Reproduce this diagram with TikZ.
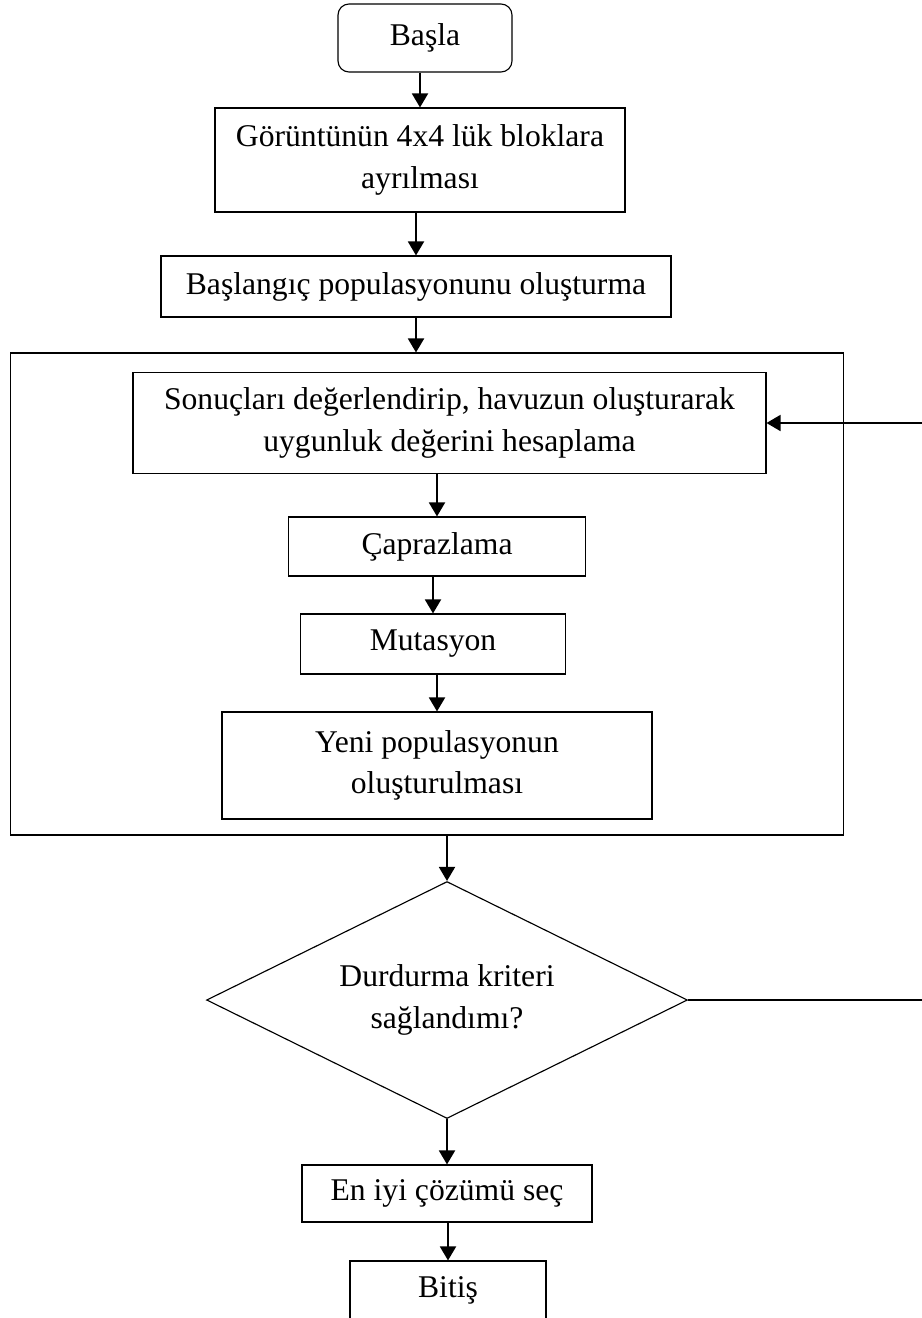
\documentclass[tikz,border=0pt]{standalone}
\usepackage{fontspec}
\setmainfont{Liberation Serif}
\usepackage{tikz}
\usetikzlibrary{arrows.meta, shapes.geometric}

\begin{document}
\begin{tikzpicture}[
  x=0.02cm, y=-0.02cm,
  font=\fontsize{18}{23.6}\selectfont,
  arrow/.style={-{Triangle[length=0.28cm, width=0.32cm]}, line width=1.1pt, black},
  backarrow/.style={-{Triangle[length=0.28cm, width=0.32cm]}, line width=0.9pt, black},
  stepbox/.style={draw, line width=0.65pt, inner sep=0pt, align=center},
  startbox/.style={stepbox, rounded corners=0.22cm},
  framebox/.style={draw, line width=0.65pt, inner sep=0pt},
  decision/.style={diamond, aspect=2, draw, line width=0.65pt, inner sep=0pt, align=center}
]
\useasboundingbox (0,0) rectangle (921,1318);
\node[startbox, minimum width=3.48cm, minimum height=1.36cm] (start) at (425,38) {Başla};
\node[stepbox, minimum width=8.2cm, minimum height=2.08cm] (blocks) at (420,160) {Görüntünün 4x4 lük bloklara\\ayrılması};
\node[stepbox, minimum width=10.2cm, minimum height=1.22cm] (init) at (416,286.5) {Başlangıç populasyonunu oluşturma};
\node[framebox, minimum width=16.68cm, minimum height=9.64cm] (loopFrame) at (427,594) {};
\node[stepbox, minimum width=12.66cm, minimum height=2.02cm] (eval) at (449.5,423) {Sonuçları değerlendirip, havuzun oluşturarak\\uygunluk değerini hesaplama};
\node[stepbox, minimum width=5.94cm, minimum height=1.18cm] (cross) at (437,546.5) {Çaprazlama};
\node[stepbox, minimum width=5.3cm, minimum height=1.2cm] (mut) at (433,644) {Mutasyon};
\node[stepbox, minimum width=8.6cm, minimum height=2.14cm] (newPop) at (437,765.5) {Yeni populasyonun\\oluşturulması};
\node[decision, minimum width=9.62cm, minimum height=4.74cm] (decide) at (447,1000) {Durdurma kriteri\\sağlandımı?};
\node[stepbox, minimum width=5.8cm, minimum height=1.14cm] (best) at (447,1193.5) {En iyi çözümü seç};
\node[stepbox, minimum width=3.92cm, minimum height=1.18cm] (finish) at (448,1290.5) {Bitiş};
\coordinate (backTurn) at (924,1000);
\foreach \a/\b in {start/blocks, blocks/init, eval/cross, cross/mut, mut/newPop, decide/best, best/finish}
  \draw[arrow] (\b.north |- \a.south) -- (\b.north);
\draw[arrow] (init.south) -- (init.south |- loopFrame.north);
\draw[arrow] (decide.north |- loopFrame.south) -- (decide.north);
\draw[backarrow] (decide.east) -- (backTurn) |- (eval.east);
\end{tikzpicture}
\end{document}
